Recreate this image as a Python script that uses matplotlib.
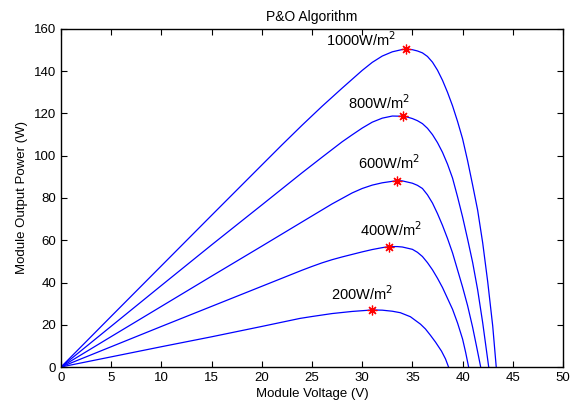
import matplotlib
matplotlib.use("Agg")
import matplotlib.pyplot as plt

plt.rcParams["font.family"] = ["Liberation Sans", "DejaVu Sans"]

# P-V curves, one per irradiance level
v_1000 = [0, 5, 10, 15, 20, 22, 24, 26, 28, 30, 31, 32, 33, 34, 34.4, 35, 35.5,
          36, 36.5, 37, 37.5, 38, 38.5, 39, 39.5, 40, 40.5, 41, 41.5, 42, 42.5,
          43, 43.35]
p_1000 = [0, 24.0, 47.9, 71.8, 95.6, 105.1, 114.4, 123.4, 132.0, 140.4, 144.2,
          147.2, 149.2, 150.3, 150.5, 150.2, 149.6, 148.7, 147.0, 144.3, 140.5,
          135.7, 130.0, 123.6, 116.2, 108.0, 97.6, 86.1, 74.2, 58.8, 40.4, 19.4, 0]

v_800 = [0, 5, 10, 15, 20, 22, 24, 26, 28, 29, 30, 31, 32, 33, 34, 34.5, 35,
         35.5, 36, 36.5, 37, 37.5, 38, 38.5, 39, 39.5, 40, 40.5, 41, 41.5, 42,
         42.6]
p_800 = [0, 19.3, 38.6, 57.8, 76.7, 84.3, 91.9, 99.3, 106.6, 109.9, 113.1,
         115.9, 117.8, 118.8, 118.7, 118.3, 117.6, 116.6, 115.2, 113.0, 110.0,
         106.2, 101.6, 96.0, 89.4, 80.5, 71.0, 60.5, 49.5, 36.5, 21.0, 0]

v_600 = [0, 5, 10, 15, 20, 25, 27, 29, 30, 31, 32, 33, 33.5, 34, 35, 35.5, 36,
         36.5, 37, 37.5, 38, 38.5, 39, 40, 40.5, 41, 41.4, 41.8]
p_600 = [0, 14.4, 28.7, 43.0, 57.2, 71.5, 77.2, 82.4, 84.5, 86.1, 87.2, 87.9,
         88.2, 88.1, 87.0, 86.0, 84.5, 81.5, 77.6, 72.6, 67.0, 60.8, 54.0, 37.8,
         29.0, 18.8, 9.5, 0]

v_400 = [0, 5, 10, 15, 20, 22, 24, 25, 26, 27, 28, 29, 30, 31, 32, 32.7, 33.5,
         34, 35, 35.5, 36, 36.5, 37, 37.5, 38, 39, 39.5, 40, 40.3, 40.6]
p_400 = [0, 9.6, 19.2, 28.7, 38.2, 42.0, 45.8, 47.6, 49.3, 50.8, 52.1, 53.3,
         54.5, 55.6, 56.5, 57.0, 57.0, 56.8, 55.7, 54.3, 52.3, 49.4, 46.0, 42.0,
         37.6, 27.3, 20.8, 13.2, 7.0, 0]

v_200 = [0, 5, 10, 15, 20, 23.8, 25, 27, 29, 31, 32, 33, 33.8, 34.8, 35.8, 36.3,
         36.8, 37.3, 37.9, 38.3, 38.6]
p_200 = [0, 4.8, 9.6, 14.3, 19.2, 23.0, 23.9, 25.3, 26.3, 27.0, 26.9, 26.4,
         25.7, 23.8, 20.3, 18.0, 15.0, 11.8, 7.5, 3.8, 0]

# maximum power points found by P&O
mpp_v = [34.4, 34.1, 33.5, 32.7, 31.0]
mpp_p = [150.5, 118.8, 88.2, 57.0, 27.0]

labels = ["1000W/m$^2$", "800W/m$^2$", "600W/m$^2$", "400W/m$^2$", "200W/m$^2$"]
label_v = [29.9, 31.7, 32.7, 32.9, 30.0]
label_p = [152.0, 122.0, 93.7, 62.0, 31.7]

fig = plt.figure(figsize=(5.7, 4.08), dpi=100)
ax = fig.add_axes([61 / 570, 41 / 408, 502 / 570, 338 / 408])

curves = [(v_1000, p_1000), (v_800, p_800), (v_600, p_600),
          (v_400, p_400), (v_200, p_200)]
for v, p in curves:
    ax.plot(v, p, color="#0000ff", linewidth=0.9)

ax.plot(mpp_v, mpp_p, linestyle="none", marker=(8, 2, 0), color="red",
        markersize=7, markeredgewidth=0.9)

for text, x, y in zip(labels, label_v, label_p):
    ax.text(x, y, text, ha="center", va="baseline", fontsize=10.5)

ax.set_xlim(0, 50)
ax.set_ylim(0, 160)
ax.set_xticks(range(0, 51, 5))
ax.set_yticks(range(0, 161, 20))
ax.tick_params(direction="in", top=True, right=True, length=4,
               labelsize=9.5, width=0.8)
for spine in ax.spines.values():
    spine.set_linewidth(1.0)

ax.set_title("P&O Algorithm", fontsize=10, pad=6)
ax.set_xlabel("Module Voltage (V)", fontsize=9.5, labelpad=3)
ax.set_ylabel("Module Output Power (W)", fontsize=9.5, labelpad=4)

fig.savefig("out.png", dpi=100)
